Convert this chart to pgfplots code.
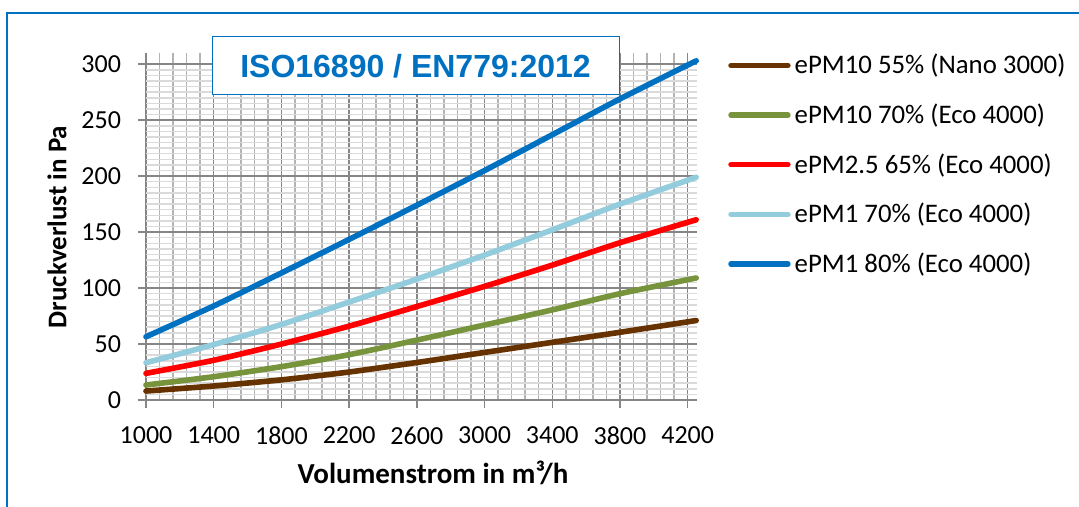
\documentclass[border=0pt]{standalone}
\usepackage{fontspec}
\setmainfont{Carlito}
\newfontfamily\arialfont{Liberation Sans}
\usepackage{pgfplots}
\pgfplotsset{compat=1.18}
\definecolor{cBrown}{HTML}{663300}
\definecolor{cGreen}{HTML}{77933C}
\definecolor{cRed}{HTML}{FF0000}
\definecolor{cLBlue}{HTML}{93CDDD}
\definecolor{cBlue}{HTML}{0070C0}
\definecolor{gMaj}{HTML}{868686}
\definecolor{gMinX}{HTML}{B4B4B4}
\definecolor{gMinY}{HTML}{DADADA}
\begin{document}
\begin{tikzpicture}
\useasboundingbox (0,0) rectangle (539.5pt,-253.5pt);
\fill[white] (0,0) rectangle (539.5pt,-253.5pt);
\draw[cBlue, line width=1pt] (3.5pt,-6.5pt) rectangle (560pt,-270pt);
\begin{axis}[
  at={(73pt,-200pt)}, anchor=south west,
  scale only axis, width=275.5pt, height=173.5pt,
  xmin=1000, xmax=4255, ymin=0, ymax=310,
  xtick={1000,1400,...,4200}, ytick={0,50,...,300},
  minor x tick num=4, minor y tick num=9,
  grid=both,
  major grid style={gMaj, line width=0.75pt},
  minor x grid style={gMinX, line width=0.75pt},
  minor y grid style={gMinY, line width=0.75pt},
  axis line style={draw=none},
  tick align=outside, tick pos=left,
  major tick length=4pt, minor tick length=0pt,
  tick style={gMaj, line width=0.75pt},
  /pgf/number format/assume math mode=true,
  /pgf/number format/set thousands separator={},
  ticklabel style={font=\fontsize{13}{15}\selectfont},
  xticklabel style={yshift=-6pt},
  yticklabel style={xshift=-5pt},
  legend style={draw=none, fill=none, at={(1.056,1.009)}, anchor=north west,
    font=\fontsize{13.4}{15}\selectfont, row sep=9.5pt, inner sep=0pt},
  legend cell align=left,
  legend image code/.code={\draw[#1, line width=2.7pt, line cap=round] (0pt,0pt) -- (28.5pt,0pt);},
  clip=false,
]
\addplot[cBrown, line width=2.8pt, smooth, tension=0.4, line cap=round] coordinates {
(1000,8) (1400,12.5) (1800,18) (2200,25) (2600,33.5) (3000,42.5) (3400,51.5) (3800,60.5) (4250,71)};
\addlegendentry{ePM10 55\% (Nano 3000)}
\addplot[cGreen, line width=2.8pt, smooth, tension=0.4, line cap=round] coordinates {
(1000,13.4) (1400,20.8) (1800,29.8) (2200,40.5) (2600,53.5) (3000,67) (3400,80.5) (3800,95) (4250,109)};
\addlegendentry{ePM10 70\% (Eco 4000)}
\addplot[cRed, line width=2.8pt, smooth, tension=0.4, line cap=round] coordinates {
(1000,23.8) (1400,35.5) (1800,50) (2200,66) (2600,83.5) (3000,101.5) (3400,120.5) (3800,140.5) (4250,161)};
\addlegendentry{ePM2.5 65\% (Eco 4000)}
\addplot[cLBlue, line width=2.8pt, smooth, tension=0.4, line cap=round] coordinates {
(1000,33.3) (1400,49.5) (1800,67.5) (2200,87.5) (2600,108) (3000,129.5) (3400,152) (3800,175) (4250,199)};
\addlegendentry{ePM1 70\% (Eco 4000)}
\addplot[cBlue, line width=2.8pt, smooth, tension=0.4, line cap=round] coordinates {
(1000,56.5) (1400,84) (1800,113.5) (2200,143.5) (2600,174) (3000,205) (3400,237) (3800,269) (4250,303)};
\addlegendentry{ePM1 80\% (Eco 4000)}
\end{axis}
\node[draw=cBlue, line width=0.5pt, fill=white, minimum width=203.5pt, minimum height=29pt, inner sep=0pt,
  font=\arialfont\bfseries\fontsize{16}{18}\selectfont, text=cBlue] at (207.75pt,-33pt) {ISO16890 / EN779:2012};
\node[rotate=90, font=\bfseries\fontsize{13.5}{16}\selectfont] at (28.5pt,-113.5pt) {Druckverlust in Pa};
\node[font=\bfseries\fontsize{14.5}{17}\selectfont] at (216.5pt,-236.5pt) {Volumenstrom in m³/h};
\end{tikzpicture}
\end{document}
